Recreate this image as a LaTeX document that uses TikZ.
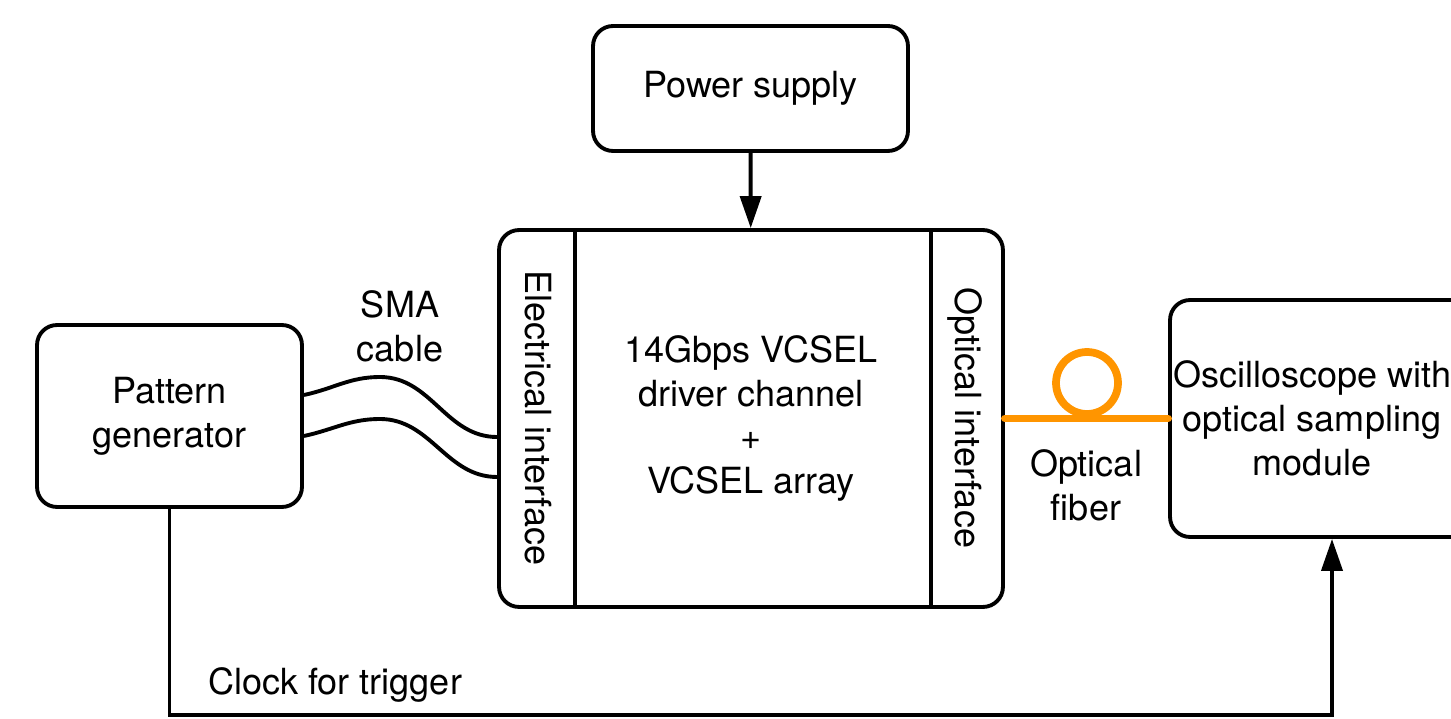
\documentclass[tikz,border=0pt]{standalone}
\usepackage{fontspec}
\setmainfont{TeX Gyre Heros}
\usetikzlibrary{arrows.meta}
\definecolor{fiberorange}{RGB}{255, 149, 0}

\begin{document}
\begin{tikzpicture}[x=0.02cm,y=-0.02cm,
    box/.style={draw,line width=2.2pt,rounded corners=0.4cm,align=center,inner sep=0pt},
    link/.style={line width=2.2pt},
    arr/.style={link,-{Triangle[length=0.64cm,width=0.42cm]}},
    fiber/.style={line width=4.4pt,fiberorange,line cap=round},
    font=\fontsize{20.5}{25}\selectfont]
            \useasboundingbox (0,0) rectangle (1451,719);

            \node[box,minimum width=6.3cm,minimum height=2.5cm] (power) at (750.5,88.5) {Power supply};
            \node[box,minimum width=10.08cm,minimum height=7.54cm] (main) at (751,418.5)
                {14Gbps VCSEL\\driver channel\\+\\VCSEL array};
            \node[box,minimum width=5.3cm,minimum height=3.64cm] (pattern) at (169.5,416) {Pattern\\generator};
            \node[box,minimum width=6.4cm,minimum height=4.74cm] (scope) at (1330,418.5) {};
            \node[align=center] (scopetext) at (1312,418.5) {Oscilloscope with\\optical sampling\\module};

            \draw[link] ([xshift=1.56cm]main.north west) -- ([xshift=1.56cm]main.south west);
            \draw[link] ([xshift=-1.48cm]main.north east) -- ([xshift=-1.48cm]main.south east);
            \node[rotate=-90] (elec) at (538,418) {Electrical interface};
            \node[rotate=-90] (opti) at (965,418) {Optical interface};

            \draw[arr] (power) -- (main);

            \draw[link] ([yshift=0.42cm]pattern.east) to[out=12,in=180] (380,377) to[out=0,in=180] ([yshift=-0.37cm]main.west);
            \draw[link] ([yshift=-0.4cm]pattern.east) to[out=12,in=180] (380,419) to[out=0,in=180] ([yshift=-1.17cm]main.west);
            \node[align=center] (sma) at (400,326) {SMA\\cable};

            \draw[fiber] (main.east) -- (scope.west);
            \draw[fiber] (1087,383) circle (0.62cm);
            \node[align=center] (fib) at (1086,485) {Optical\\fiber};

            \coordinate (clk) at (1332,715);
            \draw[arr] (pattern.south) |- (clk) -- (clk |- scope.south);
            \node (trig) at (335,685) {Clock for trigger};
        \end{tikzpicture}
\end{document}
